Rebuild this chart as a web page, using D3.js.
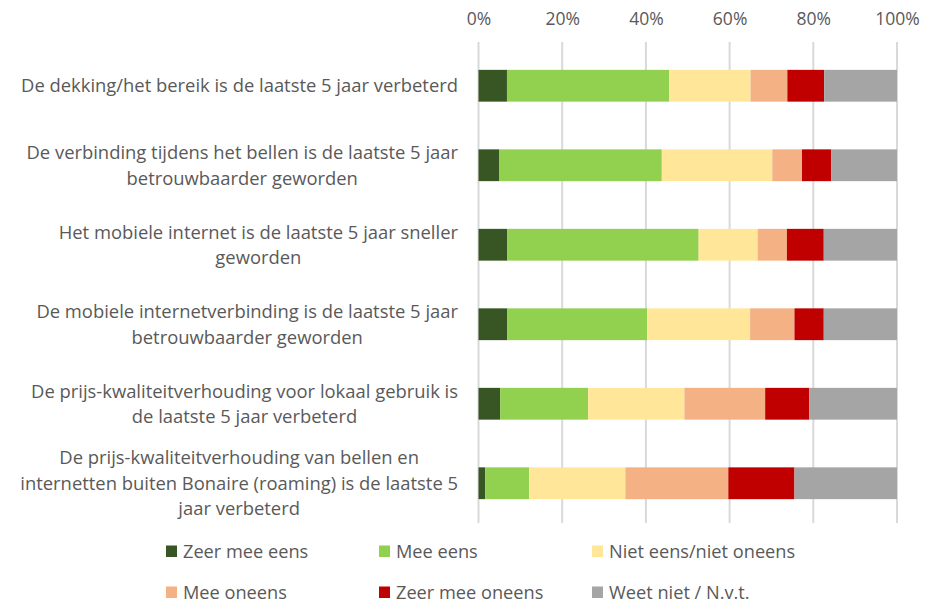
<!DOCTYPE html>
<html>
<head>
  <meta charset="utf-8">
  <style>
    body { margin: 0; background: #fff; }
    svg { font-family: "Open Sans", sans-serif; }
    .grid line { stroke: #d9d9d9; stroke-width: 2px; }
    .axis text { fill: #595959; font-size: 17.5px; font-family: "Open Sans", sans-serif; }
    .axis path, .axis line { display: none; }
    .label { fill: #595959; font-size: 18.4px; }
    .legend text { fill: #595959; font-size: 18.2px; }
  </style>
</head>
<body>
  <svg width="944" height="603"></svg>
  <script src="https://cdn.jsdelivr.net/npm/d3@7"></script>
  <script>
    // statements, already wrapped as in the original
    var categories = [
      ["De dekking/het bereik is de laatste 5 jaar verbeterd"],
      ["De verbinding tijdens het bellen is de laatste 5 jaar", "betrouwbaarder geworden"],
      ["Het mobiele internet is de laatste 5 jaar sneller", "geworden"],
      ["De mobiele internetverbinding is de laatste 5 jaar", "betrouwbaarder geworden"],
      ["De prijs-kwaliteitverhouding voor lokaal gebruik is", "de laatste 5 jaar verbeterd"],
      ["De prijs-kwaliteitverhouding van bellen en", "internetten buiten Bonaire (roaming) is de laatste 5", "jaar verbeterd"]
    ];

    var seriesNames = ["Zeer mee eens", "Mee eens", "Niet eens/niet oneens",
                       "Mee oneens", "Zeer mee oneens", "Weet niet / N.v.t."];
    var colors = ["#375623", "#92d050", "#ffe699", "#f4b183", "#c00000", "#a5a5a5"];

    // percentages per series, one value per statement
    var zeerMeeEens   = [6.8, 5.0, 6.9, 6.9, 5.2, 1.6];
    var meeEens       = [38.8, 38.8, 45.7, 33.4, 21.0, 10.5];
    var neutraal      = [19.4, 26.4, 14.1, 24.6, 23.0, 23.0];
    var meeOneens     = [8.8, 7.1, 7.0, 10.6, 19.3, 24.6];
    var zeerMeeOneens = [8.8, 7.0, 8.8, 7.0, 10.5, 15.8];
    var weetNiet      = [17.4, 15.7, 17.5, 17.5, 21.0, 24.5];

    var xTicks = [0, 0.2, 0.4, 0.6, 0.8, 1];

    var svg = d3.select("svg");
    var allSeries = [zeerMeeEens, meeEens, neutraal, meeOneens, zeerMeeOneens, weetNiet];

    var rows = categories.map(function(c, i) {
      var r = { id: i };
      seriesNames.forEach(function(s, j) { r[s] = allSeries[j][i] / 100; });
      return r;
    });

    var x = d3.scaleLinear().domain([0, 1]).range([478.5, 897]);
    var y = d3.scaleBand().domain(d3.range(categories.length))
        .range([46, 523]).paddingInner(0.6).paddingOuter(0.3);
    var color = d3.scaleOrdinal().domain(seriesNames).range(colors);

    // gridlines
    svg.append("g").attr("class", "grid")
      .selectAll("line").data(xTicks).enter().append("line")
        .attr("x1", function(d) { return x(d); })
        .attr("x2", function(d) { return x(d); })
        .attr("y1", 42).attr("y2", 523);

    svg.append("g")
        .attr("class", "axis")
        .attr("transform", "translate(0,25)")
        .call(d3.axisTop(x).tickValues(xTicks).tickSize(0).tickPadding(0)
              .tickFormat(d3.format(".0%")));

    var stacked = d3.stack().keys(seriesNames)(rows);

    svg.append("g").selectAll("g")
      .data(stacked).enter().append("g")
        .attr("fill", function(d) { return color(d.key); })
      .selectAll("rect")
      .data(function(d) { return d; }).enter().append("rect")
        .attr("x", function(d) { return x(d[0]); })
        .attr("width", function(d) { return x(d[1]) - x(d[0]); })
        .attr("y", function(d) { return y(d.data.id); })
        .attr("height", y.bandwidth());

    // category labels: lines centred within a block right-aligned at the axis
    var lineH = 25.5;
    var labels = svg.append("g");
    categories.forEach(function(lines, i) {
      var t = labels.append("text").attr("class", "label").attr("text-anchor", "middle");
      var cy = y(i) + y.bandwidth() / 2;
      lines.forEach(function(line, k) {
        t.append("tspan").text(line)
          .attr("y", cy + (k - (lines.length - 1) / 2) * lineH + 6.5);
      });
      var w = d3.max(t.selectAll("tspan").nodes(), function(n) { return n.getComputedTextLength(); });
      t.selectAll("tspan").attr("x", 458 - w / 2);
    });

    // legend
    var legX = [166, 379, 592], legY = [551, 592];
    var legend = svg.append("g").attr("class", "legend")
      .selectAll("g").data(seriesNames).enter().append("g")
        .attr("transform", function(d, i) {
          return "translate(" + legX[i % 3] + "," + legY[Math.floor(i / 3)] + ")";
        });
    legend.append("rect")
        .attr("x", 0).attr("y", -5.5).attr("width", 11).attr("height", 11.5)
        .attr("fill", function(d) { return color(d); });
    legend.append("text")
        .attr("x", 17).attr("y", 6.5)
        .text(function(d) { return d; });
  </script>
</body>
</html>
